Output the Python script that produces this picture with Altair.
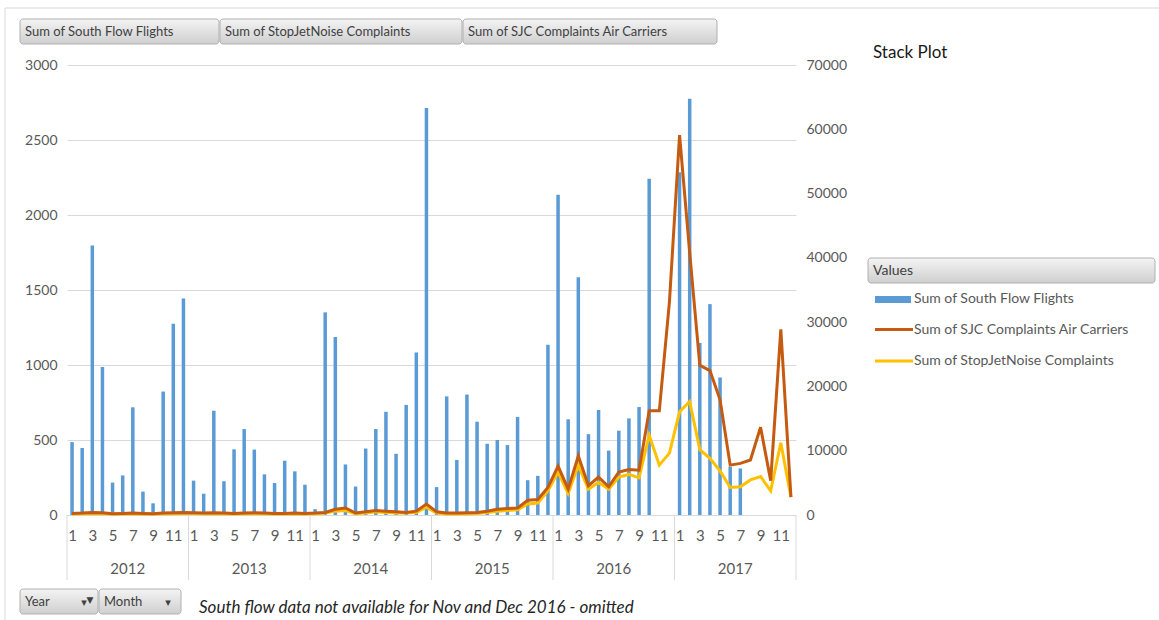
import altair as alt
import pandas as pd

# ---------------- data ----------------
years = [2012, 2013, 2014, 2015, 2016, 2017]
month_nums = list(range(1, 13))

south_flow_flights = [
    486, 447, 1796, 986, 216, 264, 718, 156, 78, 823, 1275, 1443,      # 2012
    229, 142, 695, 225, 438, 573, 436, 271, 213, 362, 291, 202,        # 2013
    39, 1351, 1186, 337, 190, 443, 573, 688, 408, 734, 1083, 2713,     # 2014
    186, 791, 367, 803, 622, 475, 500, 466, 654, 232, 261, 1135,       # 2015
    2135, 638, 1585, 539, 700, 429, 562, 644, 720, 2241, None, None,   # 2016
    2285, 2775, 1147, 1406, 917, 321, 310, None, None, None, None, None,  # 2017
]
sjc_complaints = [
    250, 300, 400, 350, 200, 250, 300, 250, 200, 300, 350, 400,
    350, 300, 350, 300, 250, 300, 350, 300, 250, 250, 300, 250,
    300, 400, 900, 1100, 300, 500, 700, 600, 500, 400, 600, 1700,
    500, 300, 300, 350, 400, 600, 900, 1000, 1100, 2300, 2400, 4300,
    7600, 4010, 9200, 4550, 5890, 4390, 6690, 7060, 6960, 16200, 16200, 33170,
    59100, 40800, 23270, 22470, 17920, 7760, 8030, 8560, 13640, 5350, 28890, 2780,
]
stopjetnoise_complaints = [
    150, 200, 250, 200, 150, 150, 200, 150, 150, 200, 200, 250,
    250, 200, 250, 200, 150, 200, 200, 200, 150, 150, 200, 150,
    200, 300, 600, 700, 200, 300, 500, 400, 300, 300, 400, 1200,
    300, 150, 150, 200, 250, 400, 600, 700, 800, 1700, 1870, 3750,
    6690, 3320, 7760, 4010, 5080, 4010, 5890, 6310, 5780, 12410, 7760, 9630,
    16050, 17660, 10170, 8830, 6850, 4280, 4390, 5460, 5990, 3750, 11240, 2780,
]

rows = []
for yi, yr in enumerate(years):
    for m in month_nums:
        i = yi * 12 + m - 1
        rows.append({"year": yr, "month": m, "pos": i + 0.5,
                     "flights": south_flow_flights[i],
                     "sjc": sjc_complaints[i],
                     "sjn": stopjetnoise_complaints[i]})
df = pd.DataFrame(rows)

n_months = len(years) * 12
sep_df = pd.DataFrame({"pos": [12 * k for k in range(len(years) + 1)]})
year_df = pd.DataFrame({"pos": [12 * k + 6 for k in range(len(years))],
                        "label": [str(y) for y in years]})

# ---------------- layout helpers ----------------
LEFT, TOP, W, H = 67, 65, 729, 450
FONT = "Lato"
GRAY = "#595959"
BLUE, ORANGE, YELLOW = "#5B9BD5", "#C55A11", "#FFC000"


def px(X):
    return X - LEFT


def py(Y):
    return Y - TOP


one = pd.DataFrame({"a": [0]})

X_ENC = alt.X(
    "pos:Q",
    scale=alt.Scale(domain=[0, n_months], nice=False, zero=False, padding=0),
    axis=alt.Axis(
        values=[i + 0.5 for i in range(n_months) if i % 2 == 0],
        labelExpr="(datum.value - 0.5) % 12 + 1",
        title=None, grid=False, ticks=False, domain=True,
        domainColor="#d9d9d9", labelPadding=13, labelFont=FONT,
        labelFontSize=15, labelColor=GRAY, labelFlush=False,
    ),
)

bars = alt.Chart(df).mark_bar(size=3.5, color=BLUE).encode(
    x=X_ENC,
    y=alt.Y("flights:Q", scale=alt.Scale(domain=[0, 3000], nice=False),
            axis=alt.Axis(orient="left", values=list(range(0, 3001, 500)), format="d",
                          title=None, grid=True, gridColor="#d9d9d9",
                          domain=False, ticks=False, labelPadding=10,
                          labelFont=FONT, labelFontSize=14, labelColor=GRAY)),
)

line_sjn = alt.Chart(df).mark_line(color=YELLOW, strokeWidth=3).encode(
    x=X_ENC,
    y=alt.Y("sjn:Q", scale=alt.Scale(domain=[0, 70000], nice=False), axis=None),
)
line_sjc = alt.Chart(df).mark_line(color=ORANGE, strokeWidth=3).encode(
    x=X_ENC,
    y=alt.Y("sjc:Q", scale=alt.Scale(domain=[0, 70000], nice=False),
            axis=alt.Axis(orient="right", values=list(range(0, 70001, 10000)), format="d",
                          title=None, grid=False, domain=False, ticks=False,
                          labelPadding=10, labelFont=FONT, labelFontSize=14,
                          labelColor=GRAY)),
)

seps = alt.Chart(sep_df).mark_rule(color="#d9d9d9", strokeWidth=1).encode(
    x=X_ENC, y=alt.value(py(515)), y2=alt.value(py(580)))

year_text = alt.Chart(year_df).mark_text(
    font=FONT, fontSize=15, color=GRAY, baseline="middle").encode(
    x=X_ENC, y=alt.value(py(569)), text="label:N")

# ---------------- decorations ----------------
deco = []

# outer chart border (only top/left visible)
deco.append(alt.Chart(one).mark_rect(fill="white", fillOpacity=0, stroke="#d9d9d9",
                                     strokeWidth=1).encode(
    x=alt.value(px(5)), x2=alt.value(px(1170)), y=alt.value(py(8)), y2=alt.value(py(630))))

button_fill = alt.LinearGradient(
    gradient="linear",
    stops=[alt.GradientStop(color="#f4f4f4", offset=0),
           alt.GradientStop(color="#cfcfcf", offset=1)],
    x1=0, x2=0, y1=0, y2=1)


def button(x1, x2, y1, y2, label, fs=13):
    r = alt.Chart(one).mark_rect(fill=button_fill, stroke="#b0b0b0", strokeWidth=1,
                                 cornerRadius=3).encode(
        x=alt.value(px(x1)), x2=alt.value(px(x2)), y=alt.value(py(y1)), y2=alt.value(py(y2)))
    t = alt.Chart(one).mark_text(font=FONT, fontSize=fs, color="#404040", align="left",
                                 baseline="middle", text=label).encode(
        x=alt.value(px(x1 + 5)), y=alt.value(py((y1 + y2) / 2)))
    return [r, t]


deco += button(20, 219, 19, 44, "Sum of South Flow Flights")
deco += button(220, 462, 19, 44, "Sum of StopJetNoise Complaints")
deco += button(463, 717, 19, 44, "Sum of SJC Complaints Air Carriers")
deco += button(20, 98, 589, 614, "Year")
deco += button(99, 181, 589, 614, "Month")

for xx, sym, fs in [(84, "▾", 11), (90, "▼", 9), (168, "▾", 11)]:
    deco.append(alt.Chart(one).mark_text(font="DejaVu Sans", fontSize=fs, color="#404040",
                                         align="center", baseline="middle", text=sym).encode(
        x=alt.value(px(xx)), y=alt.value(py(600 if sym == "▼" else 603))))

# title
deco.append(alt.Chart(one).mark_text(font=FONT, fontSize=17, color="#1a1a1a", align="left",
                                     baseline="middle", text="Stack Plot").encode(
    x=alt.value(px(873)), y=alt.value(py(53))))

# note
deco.append(alt.Chart(one).mark_text(font=FONT, fontSize=17, fontStyle="italic", color="#262626",
                                     align="left", baseline="middle",
                                     text="South flow data not available for Nov and Dec 2016 - omitted").encode(
    x=alt.value(px(199)), y=alt.value(py(608))))

# legend
deco += button(868, 1155, 258, 283, "Values", fs=14)
deco.append(alt.Chart(one).mark_rect(fill=BLUE).encode(
    x=alt.value(px(875)), x2=alt.value(px(911)), y=alt.value(py(296)), y2=alt.value(py(303))))
deco.append(alt.Chart(one).mark_rule(color=ORANGE, strokeWidth=3).encode(
    x=alt.value(px(875)), x2=alt.value(px(913)), y=alt.value(py(329.5))))
deco.append(alt.Chart(one).mark_rule(color=YELLOW, strokeWidth=3).encode(
    x=alt.value(px(875)), x2=alt.value(px(913)), y=alt.value(py(361))))
for yy, lab in [(299, "Sum of South Flow Flights"),
                (329.5, "Sum of SJC Complaints Air Carriers"),
                (361, "Sum of StopJetNoise Complaints")]:
    deco.append(alt.Chart(one).mark_text(font=FONT, fontSize=14, color=GRAY, align="left",
                                         baseline="middle", text=lab).encode(
        x=alt.value(px(914)), y=alt.value(py(yy))))

chart = alt.layer(
    *deco[:1], bars, line_sjn, line_sjc, seps, year_text, *deco[1:]
).resolve_scale(y="independent").properties(
    width=W, height=H,
    padding={"left": LEFT, "top": TOP, "right": 1159 - LEFT - W, "bottom": 620 - TOP - H},
    autosize=alt.AutoSizeParams(type="none"),
    background="white",
).configure_view(stroke=None)

chart.save("out.html", embed_options={"renderer": "svg", "actions": False})
